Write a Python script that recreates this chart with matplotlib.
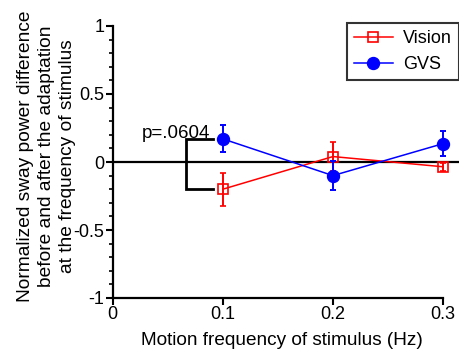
import matplotlib
matplotlib.use("Agg")
import matplotlib.pyplot as plt
from matplotlib.ticker import MultipleLocator
from matplotlib.lines import Line2D

plt.rcParams['font.family'] = ['Liberation Sans', 'DejaVu Sans']

freqs = [0.1, 0.2, 0.3]
vision = [-0.20, 0.04, -0.035]
vision_err = [0.12, 0.105, 0.03]
gvs = [0.17, -0.10, 0.135]
gvs_err = [0.10, 0.105, 0.09]
x_ticks = [0, 0.1, 0.2, 0.3]
x_ticklabels = ["0", "0.1", "0.2", "0.3"]
y_ticks = [-1, -0.5, 0, 0.5, 1]
y_ticklabels = ["-1", "-0.5", "0", "0.5", "1"]
p_text = "p=.0604"

W, H = 459, 351
fig = plt.figure(figsize=(W/100, H/100), dpi=100)
left = 112.7 / W
bottom = 1 - 298 / H
top = 1 - 26 / H
ax = fig.add_axes([left, bottom, 1 - left, top - bottom])

ax.set_xlim(0, 0.3145)
ax.set_ylim(-1, 1)

ax.axhline(0, color='black', lw=1.6, zorder=1)

ax.errorbar(freqs, vision, yerr=vision_err, color='red', marker='s', mfc='none',
            mec='red', ms=7.2, mew=1.2, lw=1.1, capsize=2.5, elinewidth=1.4,
            capthick=1.4, zorder=3)
ax.errorbar(freqs, gvs, yerr=gvs_err, color='blue', marker='o', mfc='blue',
            mec='blue', ms=8.6, lw=1.1, capsize=2.5, elinewidth=1.4,
            capthick=1.4, zorder=4)

# significance bracket
bx0, bx1 = 0.0666, 0.0908
ax.plot([bx1, bx0, bx0, bx1], [gvs[0], gvs[0], vision[0], vision[0]],
        color='black', lw=2.0, solid_joinstyle='miter', zorder=2)
ax.text(0.0884, 0.18, p_text, ha='right', va='baseline', fontsize=13.5)

for s in ['top', 'right']:
    ax.spines[s].set_visible(False)
ax.spines['left'].set_linewidth(1.6)
ax.spines['bottom'].set_linewidth(1.6)
ax.spines['bottom'].set_bounds(0, 0.3)

ax.set_xticks(x_ticks)
ax.set_xticklabels(x_ticklabels)
ax.set_yticks(y_ticks)
ax.set_yticklabels(y_ticklabels)
ax.yaxis.set_minor_locator(MultipleLocator(0.1))
ax.tick_params(axis='both', which='major', labelsize=13, width=1.5, length=5,
               direction='out', pad=1)
ax.tick_params(axis='y', which='minor', width=1.2, length=3, direction='out')

ax.set_xlabel('Motion frequency of stimulus (Hz)', fontsize=13.7, labelpad=6)
ax.xaxis.label.set_x(0.489)
ax.set_ylabel('Normalized sway power difference\nbefore and after the adaptation\nat the frequency of stimulus',
              fontsize=13.8, linespacing=1.3)
ax.yaxis.set_label_coords(-0.107, 0.5224)

handles = [
    Line2D([], [], color='red', marker='s', mfc='none', mec='red', ms=7.2,
           mew=1.2, lw=1.1),
    Line2D([], [], color='blue', marker='o', mfc='blue', mec='blue', ms=8.6,
           lw=1.1),
]
leg = ax.legend(handles, ['Vision', 'GVS'], loc='upper left',
                bbox_to_anchor=(346.7 / W, 1 - 22.7 / H),
                bbox_transform=fig.transFigure, frameon=True, fancybox=False,
                edgecolor='black', fontsize=13, handlelength=2.15,
                borderpad=0.4, labelspacing=0.5, handletextpad=0.55,
                borderaxespad=0)
leg.get_frame().set_linewidth(1.5)

fig.savefig('out.png', dpi=100)
